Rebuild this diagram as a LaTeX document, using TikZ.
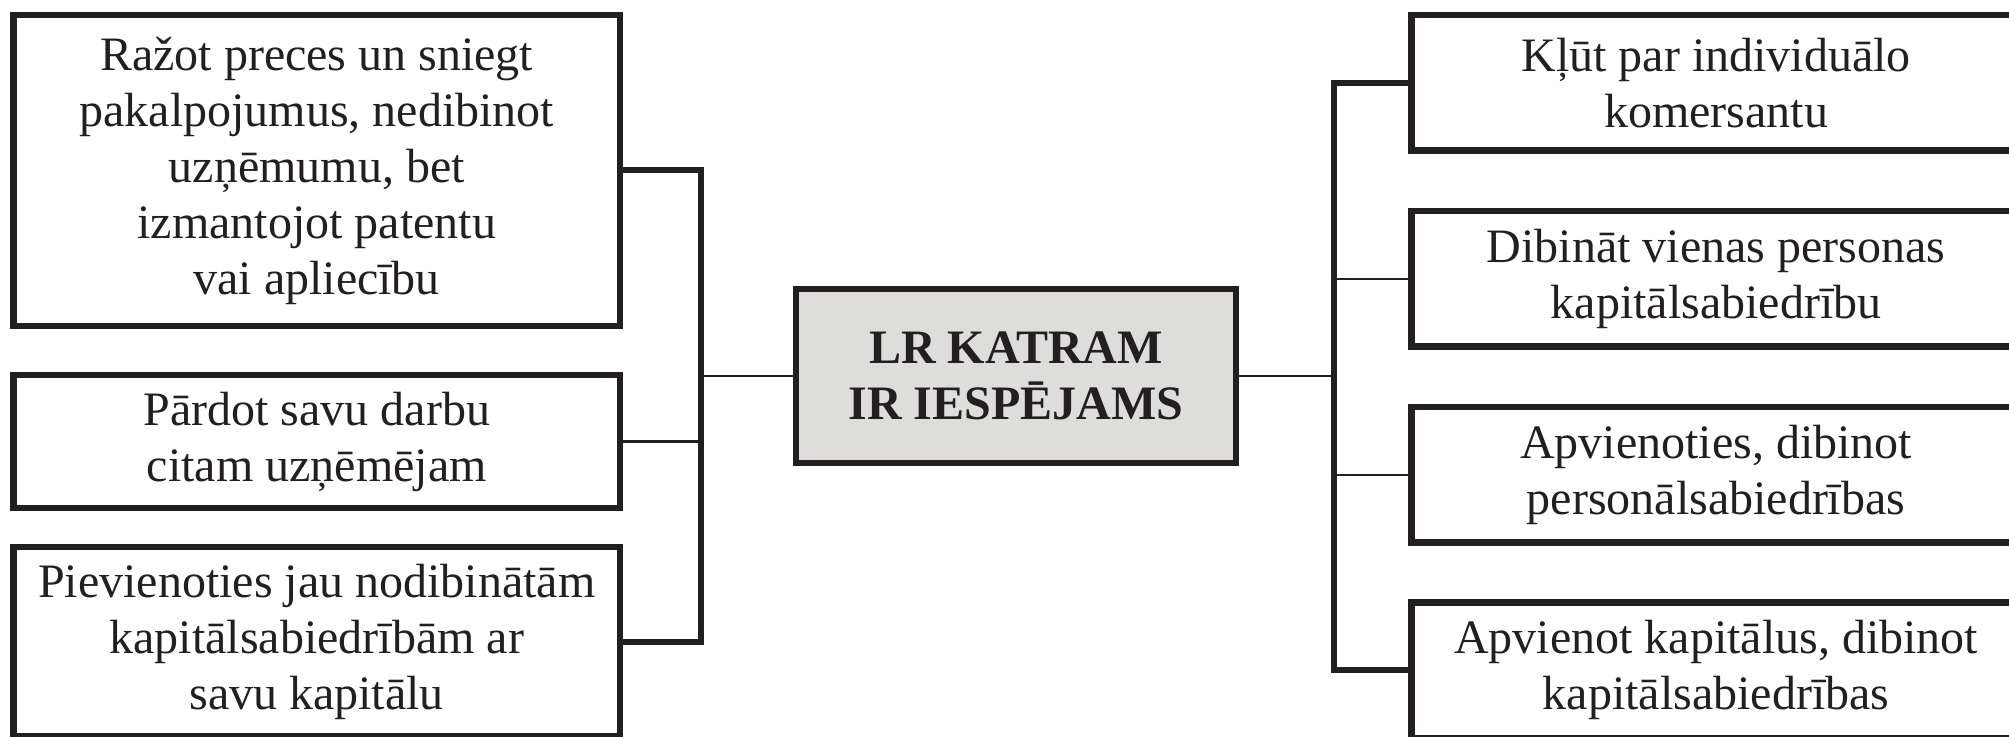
\documentclass[tikz,border=0pt]{standalone}
\usepackage{fontspec}
\setmainfont{Liberation Serif}
\definecolor{ink}{HTML}{231F20}
\definecolor{boxgray}{HTML}{DDDDDB}
\tikzset{
  optbox/.style={draw=ink, line width=3.25pt, align=center, inner sep=0pt,
    font=\fontsize{24}{28}\selectfont, text=ink, minimum width=303.25pt},
  rbox/.style={optbox, minimum width=304.5pt, minimum height=67.75pt},
  centerbox/.style={draw=ink, line width=3pt, fill=boxgray, align=center, inner sep=0pt,
    font=\fontsize{24}{28}\selectfont\bfseries, text=ink, minimum width=220pt, minimum height=87pt},
  thickline/.style={draw=ink, line width=3pt},
  thinline/.style={draw=ink, line width=1.35pt}
}
\begin{document}
\begin{tikzpicture}[x=0.5pt,y=-0.5pt]
\useasboundingbox (0,0) rectangle (2009,737);
\clip (0,0) rectangle (2009,737);
\fill[white] (0,0) rectangle (2009,737);
% left boxes
\node[optbox, minimum height=155.5pt] (L1) at (316.7,170.5)
  {Ražot preces un sniegt\\pakalpojumus, nedibinot\\uzņēmumu, bet\\izmantojot patentu\\vai apliecību};
\node[optbox, minimum height=66.5pt] (L2) at (316.7,441.5)
  {Pārdot savu darbu\\citam uzņēmējam};
\node[optbox, minimum height=94.5pt] (L3) at (316.7,641.5)
  {Pievienoties jau nodibinātām\\kapitālsabiedrībām ar\\savu kapitālu};
% center
\node[centerbox] (C) at (1016,376) {LR KATRAM\\IR IESPĒJAMS};
% right boxes
\node[rbox] (R1) at (1716,82.75) {Kļūt par individuālo\\komersantu};
\node[rbox] (R2) at (1716,279) {Dibināt vienas personas\\kapitālsabiedrību};
\node[rbox] (R3) at (1716,475) {Apvienoties, dibinot\\personālsabiedrības};
\node[rbox] (R4) at (1716,670) {Apvienot kapitālus, dibinot\\kapitālsabiedrības};
% junctions
\coordinate (lx) at (701,376);
\coordinate (rx) at (1333.5,376);
% left connectors
\draw[thickline] (L1.east) -| (lx) |- (L3.east);
\draw[thinline] (L2.east) -- (L2.east -| lx);
\draw[thinline] (lx) -- (C.west);
% right connectors
\draw[thickline] (R1.west) -| (rx) |- (R4.west);
\draw[thinline] (R2.west) -- (R2.west -| rx);
\draw[thinline] (R3.west) -- (R3.west -| rx);
\draw[thinline] (C.east) -- (rx);
\end{tikzpicture}
\end{document}
